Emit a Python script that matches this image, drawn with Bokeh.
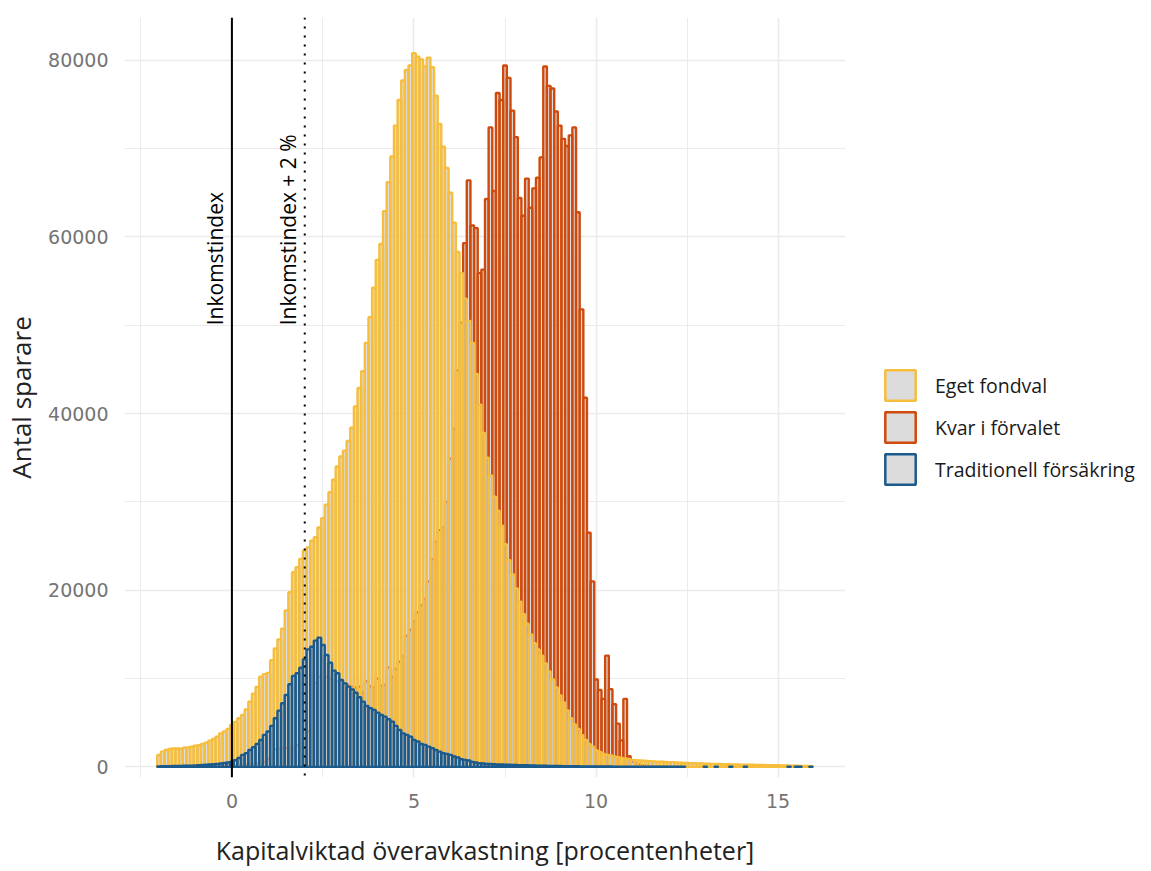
from bokeh.plotting import figure
from bokeh.models import (ColumnDataSource, Range1d, FixedTicker, Span, Label,
                          Legend, LegendItem)
from bokeh.embed import file_html
from bokeh.resources import INLINE

# ---------------- data (histogram counts, bins of 0.1 starting at -2.0) ----------------
bin_start = -2.0
bin_width = 0.1

eget_fondval = [
    1350, 1730, 1920, 2030, 2100, 2100, 2070, 2180, 2200, 2290,
    2400, 2450, 2600, 2750, 2970, 3160, 3420, 3800, 4000, 4300,
    4740, 5100, 5500, 5870, 6500, 7370, 8300, 9060, 10200, 10500,
    10640, 12070, 13400, 14440, 15640, 17700, 19780, 22030, 22600, 23540,
    24500, 24850, 25600, 26000, 27100, 28160, 29670, 31100, 32500, 34000,
    35140, 35800, 36900, 38400, 40800, 42900, 44800, 48000, 50900, 54250,
    57400, 59200, 62900, 66200, 69100, 72600, 75500, 77700, 78900, 79400,
    80800, 80400, 80100, 79300, 80300, 79200, 76000, 72800, 70200, 67800,
    65000, 61600, 58300, 55900, 53000, 50500, 48000, 44500, 41000, 37800,
    35000, 33000, 30600, 29000, 27300, 25200, 23400, 21800, 20200, 18700,
    17300, 16200, 15000, 14000, 13300, 12600, 11700, 10800, 9900, 9000,
    8100, 7300, 6400, 5500, 4800, 4300, 3600, 3050, 2600, 2300,
    1850, 1700, 1470, 1360, 1300, 1170, 1090, 1020, 950, 880,
    800, 760, 730, 700, 660, 640, 620, 600, 580, 560,
    540, 520, 500, 470, 450, 440, 430, 420, 400, 380,
    360, 350, 340, 330, 320, 310, 300, 290, 280, 270,
    260, 250, 250, 240, 230, 220, 210, 200, 200, 190,
    180, 170, 160, 150, 140, 130, 120, 110, 100, 90,
]

kvar_i_forvalet = [
    20, 20, 30, 30, 30, 40, 40, 40, 50, 50,
    60, 60, 70, 80, 90, 100, 110, 120, 140, 160,
    180, 200, 220, 250, 280, 300, 340, 380, 450, 600,
    900, 1360, 2000, 2100, 2100, 2150, 2150, 2250, 2450, 2750,
    3050, 4000, 8250, 9500, 10200, 9090, 10200, 10000, 9800, 9700,
    9650, 9500, 9300, 9100, 9000, 9090, 8400, 9700, 9100, 9000,
    10000, 9200, 9300, 11270, 10200, 11100, 11900, 12550, 14850, 15500,
    16500, 17500, 18300, 19000, 21000, 23500, 25500, 26800, 27100, 30000,
    34900, 38300, 44900, 50300, 59300, 66400, 61300, 61000, 55900, 56300,
    64300, 72400, 65200, 76300, 75500, 79400, 78000, 74300, 71300, 64400,
    62400, 66600, 63300, 65500, 66700, 69000, 79300, 77100, 76800, 74200,
    72600, 71100, 70300, 71500, 72400, 62800, 51800, 41800, 26500, 21000,
    9900, 8700, 7700, 12600, 8800, 7100, 4900, 3000, 7700, 1200,
    600, 400, 300, 200, 150, 100, 80, 60, 50, 40,
    30,
]

traditionell = [
    60, 70, 80, 90, 100, 110, 120, 130, 140, 150,
    170, 190, 210, 240, 270, 300, 340, 390, 440, 500,
    600, 750, 1000, 1360, 1550, 1920, 2220, 2600, 3050, 3620,
    4000, 4640, 5500, 6370, 7200, 8140, 9350, 10300, 10600, 11230,
    12180, 13300, 13600, 14300, 14630, 13800, 12670, 11800, 10900, 10600,
    9840, 9460, 9090, 8780, 8400, 7880, 7390, 6900, 6640, 6450,
    6150, 5880, 5690, 5390, 5130, 4640, 4180, 3800, 3620, 3430,
    3050, 2870, 2600, 2490, 2300, 2110, 1920, 1730, 1550, 1470,
    1360, 1170, 1060, 870, 790, 720, 570, 490, 410, 380,
    340, 320, 300, 280, 270, 260, 240, 230, 220, 200,
    190, 180, 170, 160, 150, 140, 130, 120, 110, 100,
    95, 90, 85, 80, 75, 70, 65, 60, 55, 50,
    48, 45, 42, 40, 38, 35, 32, 30, 28, 26,
    25, 24, 22, 20, 20, 18, 16, 15, 14, 12,
    12, 10, 10, 10, 10, 0, 0, 0, 0, 0,
    10, 0, 0, 10, 0, 0, 0, 10, 0, 0,
    0, 10, 0, 0, 0, 0, 0, 0, 0, 0,
    0, 0, 0, 10, 0, 10, 10, 0, 0, 10,
]

series_names = ["Eget fondval", "Kvar i förvalet", "Traditionell försäkring"]
series_colors = ["#F6BE3C", "#CF4A0C", "#1B5A8C"]

y_ticks = [0, 20000, 40000, 60000, 80000]
y_minor = [10000, 30000, 50000, 70000]
x_ticks = [0, 5, 10, 15]
x_minor = [-2.5, 2.5, 7.5, 12.5]

ref_lines = [0, 2]
ref_labels = ["Inkomstindex", "Inkomstindex + 2 %"]
label_y = 50000


def make_source(values):
    xs, ys = [], []
    for i, v in enumerate(values):
        if v > 0:
            xs.append(round(bin_start + bin_width * i, 2))
            ys.append(v)
    return ColumnDataSource(dict(x=xs, top=ys))


p = figure(width=1150, frame_width=721, frame_height=760, output_backend="svg",
           toolbar_location=None,
           x_range=Range1d(-2.95, 16.85), y_range=Range1d(-1200, 84840),
           min_border_left=123, min_border_top=17, min_border_right=0,
           min_border_bottom=5)

p.background_fill_color = "white"
p.border_fill_color = "white"
p.outline_line_color = None

# grids
p.xgrid.ticker = FixedTicker(ticks=x_ticks, minor_ticks=x_minor)
p.ygrid.ticker = FixedTicker(ticks=y_ticks, minor_ticks=y_minor)
for g in (p.xgrid, p.ygrid):
    g.grid_line_color = "#EBEBEB"
    g.grid_line_width = 1.6
    g.minor_grid_line_color = "#EBEBEB"
    g.minor_grid_line_width = 1.0

# axes
p.xaxis.ticker = FixedTicker(ticks=x_ticks)
p.yaxis.ticker = FixedTicker(ticks=y_ticks)
for ax in (p.xaxis, p.yaxis):
    ax.axis_line_color = None
    ax.major_tick_line_color = None
    ax.minor_tick_line_color = None
    ax.major_label_text_font = "DejaVu Sans"
    ax.major_label_text_font_size = "19px"
    ax.major_label_text_color = "#747474"
    ax.axis_label_text_font = "Open Sans"
    ax.axis_label_text_font_size = "25px"
    ax.axis_label_text_font_style = "normal"
    ax.axis_label_text_color = "#222222"
p.yaxis.major_label_standoff = 10
p.yaxis.axis_label_standoff = 6
p.xaxis.major_label_standoff = 10
p.xaxis.axis_label_standoff = 22
p.yaxis.axis_label_text_font_size = "26px"
p.xaxis.axis_label = "Kapitalviktad överavkastning [procentenheter]"
p.yaxis.axis_label = "Antal sparare"

# bars: drawn förvalet first, then eget, then traditionell on top
order = [1, 0, 2]
data = [eget_fondval, kvar_i_forvalet, traditionell]
for k in order:
    src = make_source(data[k])
    p.vbar(x="x", top="top", bottom=0, width=bin_width, source=src,
           fill_color="#BEBEBE", fill_alpha=0.5,
           line_color=series_colors[k], line_width=2.4)

# reference lines
p.add_layout(Span(location=ref_lines[0], dimension="height", line_color="black",
                  line_width=2))
p.add_layout(Span(location=ref_lines[1], dimension="height", line_color="black",
                  line_width=2, line_dash="2 7"))
for xv, txt in zip(ref_lines, ref_labels):
    p.add_layout(Label(x=xv, y=label_y, text=txt, angle=90, angle_units="deg",
                       text_align="left", text_baseline="bottom", x_offset=-3,
                       text_font="Open Sans", text_font_size="21px",
                       text_color="black"))

# legend keys (off-screen dummy glyphs so the keys can be styled)
items = []
for name, col in zip(series_names, series_colors):
    r = p.rect(x=[-100], y=[-1e6], width=1, height=1, fill_color="#DCDCDC", fill_alpha=1,
               line_color=col, line_width=2.5)
    items.append(LegendItem(label=name, renderers=[r]))
legend = Legend(items=items, location=(36, 289), orientation="vertical",
                glyph_width=38, glyph_height=38, spacing=4, label_standoff=16,
                label_text_font="Open Sans", label_text_font_size="19.5px",
                label_text_color="#1A1A1A", border_line_color=None,
                background_fill_alpha=0, margin=0, padding=0)
p.add_layout(legend, "right")

open("out.html", "w").write(file_html(p, INLINE))
